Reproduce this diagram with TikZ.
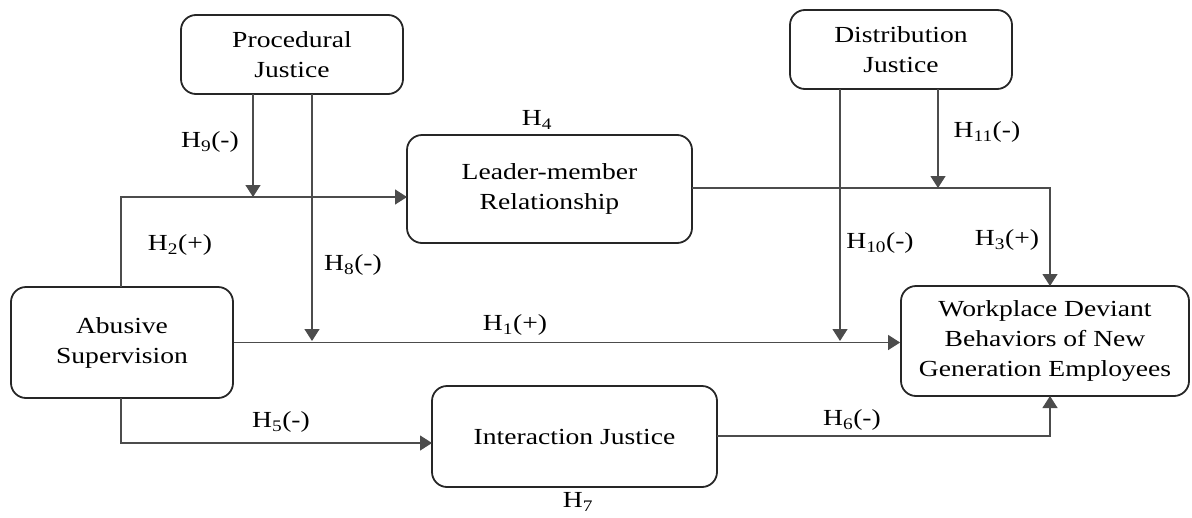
\documentclass[tikz,border=0pt]{standalone}
\usepackage{fontspec}
\setmainfont{Liberation Serif}[FakeStretch=1.2]
\usetikzlibrary{arrows.meta}
\begin{document}
\begin{tikzpicture}[x=1pt,y=-1pt,
  box/.style={draw=black!85,line width=1.8pt,rounded corners=15pt,align=center,
    inner sep=0pt,font=\fontsize{23}{30}\selectfont},
  conn/.style={draw=black!70,line width=1.3pt},
  arr/.style={conn,-{Triangle[length=12pt,width=15pt]}},
  lab/.style={font=\fontsize{23}{28}\selectfont,inner sep=0pt}]
\useasboundingbox (0,0) rectangle (1192,517);

% variables
\node[box,minimum width=222pt,minimum height=79pt] (proc) at (292,54.5) {Procedural\\Justice};
\node[box,minimum width=222pt,minimum height=79pt] (dist) at (901,49.5) {Distribution\\Justice};
\node[box,minimum width=285pt,minimum height=108pt] (lmr) at (549.5,189) {Leader-member\\Relationship};
\node[box,minimum width=222pt,minimum height=111pt] (abu) at (122,342.5) {Abusive\\Supervision};
\node[box,minimum width=285pt,minimum height=101pt] (inter) at (574.5,436.5) {Interaction Justice};
\node[box,minimum width=288pt,minimum height=110pt] (wdb) at (1045,341) {Workplace Deviant\\Behaviors of New\\Generation Employees};

% bend and meeting points
\coordinate (h2a) at (121,287);
\coordinate (h2b) at (407,197);
\coordinate (h9a) at (253,94);
\coordinate (h9b) at (253,197);
\coordinate (h8a) at (312,94);
\coordinate (h8b) at (312,341);
\coordinate (h10a) at (840,89);
\coordinate (h10b) at (840,341);
\coordinate (h11a) at (938,89);
\coordinate (h11b) at (938,188);
\coordinate (h3a) at (692,188);
\coordinate (h3b) at (1050,286);
\coordinate (h5a) at (121,398);
\coordinate (h5b) at (432,443);
\coordinate (h6a) at (717,436);
\coordinate (h6b) at (1050,396);

% connectors
\draw[arr] (abu.east) -- (abu.east -| wdb.west);
\draw[arr] (h2a) |- (h2b);
\draw[arr] (h9a) -- (h9b);
\draw[arr] (h8a) -- (h8b);
\draw[arr] (h10a) -- (h10b);
\draw[arr] (h11a) -- (h11b);
\draw[arr] (h3a) -| (h3b);
\draw[arr] (h5a) |- (h5b);
\draw[arr] (h6a) -| (h6b);

% hypothesis labels
\node[lab] (l9) at (210,142) {H\textsubscript{9}(-)};
\node[lab] (l2) at (180,245) {H\textsubscript{2}(+)};
\node[lab] (l8) at (353,265) {H\textsubscript{8}(-)};
\node[lab] (l4) at (537,120) {H\textsubscript{4}};
\node[lab] (l11) at (987,132) {H\textsubscript{11}(-)};
\node[lab] (l10) at (880,243) {H\textsubscript{10}(-)};
\node[lab] (l3) at (1007,240) {H\textsubscript{3}(+)};
\node[lab] (l1) at (515,325) {H\textsubscript{1}(+)};
\node[lab] (l5) at (281,422) {H\textsubscript{5}(-)};
\node[lab] (l6) at (852,420) {H\textsubscript{6}(-)};
\node[lab] (l7) at (578,502) {H\textsubscript{7}};
\end{tikzpicture}
\end{document}
